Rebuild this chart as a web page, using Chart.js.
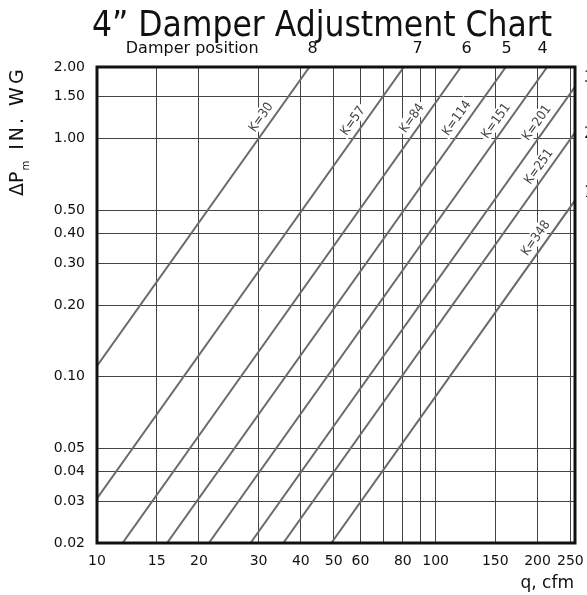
<!DOCTYPE html>
<html>
<head>
<meta charset="utf-8">
<script src="https://cdn.jsdelivr.net/npm/chart.js@4.4.0/dist/chart.umd.min.js"></script>
<style>
  html, body { margin: 0; padding: 0; background: #fff; }
  #wrap { width: 587px; height: 595px; }
</style>
</head>
<body>
<div id="wrap"><canvas id="damperChart" width="587" height="595"></canvas></div>
<script>
// K lines, endpoints (q in cfm, dP in in. WG)
const kValues = [30, 57, 84, 114, 151, 201, 251, 348];
const lineStartQ = [10, 10, 11.9, 16.1, 21.4, 28.4, 35.5, 49.2];
const lineStartDp = [0.111, 0.0308, 0.02, 0.02, 0.02, 0.02, 0.02, 0.02];
const lineEndQ = [42.4, 80.6, 118.8, 161.2, 213.5, 258, 258, 258];
const lineEndDp = [2, 2, 2, 2, 2, 1.65, 1.06, 0.55];

// where the "K=.." labels sit along each line
const labelQ = [32.3, 60.3, 90.1, 122.2, 159.7, 210.8, 213.6, 209.1];
const labelDp = [1.16, 1.12, 1.15, 1.15, 1.12, 1.1, 0.72, 0.36];

// axes
const xGrid = [10, 15, 20, 30, 40, 50, 60, 70, 80, 90, 100, 150, 200, 250];
const xLabels = [10, 15, 20, 30, 40, 50, 60, 80, 100, 150, 200, 250];
const yGrid = [0.02, 0.03, 0.04, 0.05, 0.1, 0.2, 0.3, 0.4, 0.5, 1, 1.5, 2];
const damperQ = [19.1, 43.3, 88.5, 123.5, 162, 207];
const damperLabels = ["Damper position", "8", "7", "6", "5", "4"];
const rightLabelsDp = [1.8, 1.05, 0.59];
const rightLabels = ["3", "2", "1"];

const FONT = "'DejaVu Sans Condensed', 'DejaVu Sans', sans-serif";
const WIDE = "'DejaVu Sans', sans-serif";
Chart.defaults.font.family = WIDE;
Chart.defaults.color = "#111";

const datasets = kValues.map((k, i) => ({
  label: "K=" + k,
  data: [
    { x: lineStartQ[i], y: lineStartDp[i] },
    { x: lineEndQ[i], y: lineEndDp[i] },
  ],
  showLine: true,
  borderColor: "#6a6a6a",
  borderWidth: 2,
  pointRadius: 0,
  fill: false,
}));

const kLabelPlugin = {
  id: "kLabels",
  beforeDatasetsDraw(chart) {
    const { ctx, scales } = chart;
    const x = scales.x, y = scales.y;
    ctx.save();
    ctx.font = "13px " + FONT;
    ctx.textAlign = "center";
    ctx.textBaseline = "middle";
    kValues.forEach((k, i) => {
      const a = Math.atan2(
        y.getPixelForValue(lineEndDp[i]) - y.getPixelForValue(lineStartDp[i]),
        x.getPixelForValue(lineEndQ[i]) - x.getPixelForValue(lineStartQ[i])
      );
      const px = x.getPixelForValue(labelQ[i]) + Math.sin(a) * 11;
      const py = y.getPixelForValue(labelDp[i]) - Math.cos(a) * 11;
      const txt = "K=" + k;
      const w = ctx.measureText(txt).width + 4;
      ctx.save();
      ctx.translate(px, py);
      ctx.rotate(a);
      ctx.fillStyle = "#fff";
      ctx.fillRect(-w / 2, -7, w, 14);
      ctx.fillStyle = "#444";
      ctx.fillText(txt, 0, 1);
      ctx.restore();
    });
    ctx.restore();
  },
  afterDraw(chart) {
    const { ctx, chartArea, scales } = chart;
    ctx.save();
    // frame
    ctx.strokeStyle = "#111";
    ctx.lineWidth = 3;
    ctx.strokeRect(chartArea.left, chartArea.top,
      chartArea.right - chartArea.left, chartArea.bottom - chartArea.top);

    // title
    ctx.fillStyle = "#111";
    ctx.textAlign = "center";
    ctx.textBaseline = "alphabetic";
    ctx.font = "35px " + FONT;
    ctx.fillText("4\u201D Damper Adjustment Chart", 322, 36);

    // y axis title, bottom to top
    ctx.save();
    ctx.translate(18, 196);
    ctx.rotate(-Math.PI / 2);
    ctx.textAlign = "left";
    ctx.textBaseline = "middle";
    ctx.font = "19px " + WIDE;
    ctx.fillText("\u0394P", 0, 0);
    let off = ctx.measureText("\u0394P").width;
    ctx.font = "10px " + WIDE;
    ctx.fillText("m", off + 1, 8);
    off += ctx.measureText("m").width + 12;
    ctx.font = "19px " + WIDE;
    ctx.letterSpacing = "3px";
    ctx.fillText("IN. WG", off, 0);
    ctx.letterSpacing = "0px";
    ctx.restore();

    // x axis title
    ctx.textAlign = "right";
    ctx.textBaseline = "middle";
    ctx.font = "17px " + WIDE;
    ctx.fillText("q, cfm", 574, 584);

    // damper positions cut off at the right edge
    ctx.textAlign = "left";
    ctx.font = "16px " + WIDE;
    rightLabels.forEach((t, i) => {
      ctx.fillText(t, 584, scales.y.getPixelForValue(rightLabelsDp[i]));
    });
    ctx.restore();
  },
};

const noOverhang = (s) => { s.paddingLeft = 0; s.paddingRight = 0; };

new Chart(document.getElementById("damperChart"), {
  type: "scatter",
  data: { datasets },
  plugins: [kLabelPlugin],
  options: {
    responsive: false,
    animation: false,
    layout: { padding: { left: 0, right: 12, top: 0, bottom: 0 } },
    plugins: {
      legend: { display: false },
      tooltip: { enabled: false },
    },
    scales: {
      x: {
        type: "logarithmic",
        position: "bottom",
        min: 10,
        max: 258,
        afterBuildTicks: (s) => { s.ticks = xGrid.map((v) => ({ value: v })); },
        afterFit: (s) => { s.height = 52; noOverhang(s); },
        grid: { color: "#444", lineWidth: 1, drawTicks: false },
        border: { display: false },
        ticks: {
          autoSkip: false,
          maxRotation: 0,
          padding: 10,
          font: { size: 14 },
          callback: (v) => (xLabels.includes(v) ? String(v) : ""),
        },
      },
      x2: {
        type: "logarithmic",
        position: "top",
        min: 10,
        max: 258,
        afterBuildTicks: (s) => { s.ticks = damperQ.map((v) => ({ value: v })); },
        afterFit: (s) => { s.height = 67; noOverhang(s); },
        grid: { display: false, drawTicks: false },
        border: { display: false },
        ticks: {
          autoSkip: false,
          maxRotation: 0,
          padding: 9,
          font: { size: 16 },
          callback: (v, i) => damperLabels[i],
        },
      },
      y: {
        type: "logarithmic",
        min: 0.02,
        max: 2,
        afterBuildTicks: (s) => { s.ticks = yGrid.map((v) => ({ value: v })); },
        afterFit: (s) => { s.width = 97; },
        grid: { color: "#444", lineWidth: 1, drawTicks: false },
        border: { display: false },
        ticks: {
          autoSkip: false,
          padding: 12,
          font: { size: 14 },
          callback: (v) => v.toFixed(2),
        },
      },
    },
  },
});
</script>
</body>
</html>
